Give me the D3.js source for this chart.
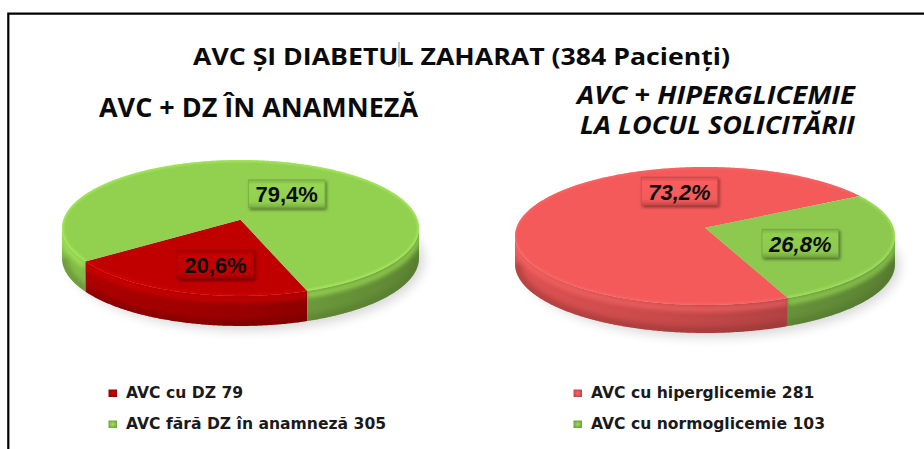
<!DOCTYPE html>
<html>
<head>
<meta charset="utf-8">
<script src="https://cdn.jsdelivr.net/npm/d3@7"></script>
<style>
  html, body { margin: 0; padding: 0; background: #fff; }
  svg { display: block; }
</style>
</head>
<body>
<script>
// ---- data ----
const chartTitle = "AVC ȘI DIABETUL ZAHARAT (384 Pacienți)";
const leftTitleLines = ["AVC + DZ ÎN ANAMNEZĂ"];
const rightTitleLines = ["AVC + HIPERGLICEMIE", "LA LOCUL SOLICITĂRII"];

const leftCategories = ["AVC cu DZ", "AVC fără DZ în anamneză"];
const leftValues = [79, 305];
const rightCategories = ["AVC cu hiperglicemie", "AVC cu normoglicemie"];
const rightValues = [281, 103];

// ---- layout / style ----
const W = 924, H = 449;
const DEG = Math.PI / 180;

const pies = [
  {
    cats: leftCategories, values: leftValues,
    cx: 240.5, cy: 219.8, rx: 177.2, ry: 67, k: 0.12, depth: 30,
    start: 160.5 * DEG,
    colors: ["#C00000", "#92D050"],
    italic: false,
    labelAngleShift: [-5.8, 17.4], labelRadius: [0.643, 0.477],
    legendX: 108.5
  },
  {
    cats: rightCategories, values: rightValues,
    cx: 705, cy: 227.7, rx: 188.6, ry: 68, k: 0.12, depth: 28,
    start: 157 * DEG,
    colors: ["#F45A5A", "#8DC94F"],
    italic: true,
    labelAngleShift: [56.8, 7], labelRadius: [0.578, 0.545],
    legendX: 573.5
  }
];

const svg = d3.select("body").append("svg")
  .attr("width", W).attr("height", H)
  .attr("viewBox", `0 0 ${W} ${H}`);
const defs = svg.append("defs");

// soft blur filters
function blurFilter(id, sd) {
  defs.append("filter").attr("id", id)
    .attr("x", "-30%").attr("y", "-30%").attr("width", "160%").attr("height", "160%")
    .append("feGaussianBlur").attr("stdDeviation", sd);
}
blurFilter("blur1", 1.2);
blurFilter("blur2", 2.2);
blurFilter("blur6", 6);

const boxShadow = defs.append("filter").attr("id", "boxShadow")
  .attr("x", "-30%").attr("y", "-40%").attr("width", "160%").attr("height", "180%");
boxShadow.append("feDropShadow")
  .attr("dx", 1.5).attr("dy", 2).attr("stdDeviation", 1.8)
  .attr("flood-color", "#000").attr("flood-opacity", 0.45);

// frame lines (left and top)
svg.append("path")
  .attr("d", "M8.3,449 V13.7 H924")
  .attr("fill", "none").attr("stroke", "#000").attr("stroke-width", 2.2);

// ---- perspective disc projection ----
function proj(p, th, r, z) {
  const c = Math.cos(th), s = Math.sin(th);
  const f = 1 / (1 + p.k * r * c);
  return [p.cx + p.rx * r * s * f, p.cy - p.ry * r * c * f + (z || 0)];
}
function arcPts(p, a0, a1, r, z) {
  const n = Math.max(2, Math.ceil(Math.abs(a1 - a0) / (0.5 * DEG)));
  const pts = [];
  for (let i = 0; i <= n; i++) pts.push(proj(p, a0 + (a1 - a0) * i / n, r, z));
  return pts;
}
const line = d3.line();

const pctFmt = v => d3.format(".1f")(v).replace(".", ",") + "%";

pies.forEach((p, pi) => {
  const total = d3.sum(p.values);
  const arcs = d3.pie().sort(null)
    .startAngle(p.start).endAngle(p.start + 2 * Math.PI)(p.values);

  const g = svg.append("g");

  // ground shadow
  g.append("ellipse")
    .attr("cx", p.cx + 6).attr("cy", p.cy + p.depth + 10)
    .attr("rx", p.rx * 1.0).attr("ry", p.ry * 1.05)
    .attr("fill", "#000").attr("opacity", 0.16)
    .attr("filter", "url(#blur6)");

  // visible outer wall interval (front side)
  const tL = Math.acos(-p.k), tR = 2 * Math.PI - tL;

  arcs.forEach((a, i) => {
    const base = d3.rgb(p.colors[i]);
    const gid = `side${pi}_${i}`;
    const grad = defs.append("linearGradient").attr("id", gid)
      .attr("gradientUnits", "userSpaceOnUse")
      .attr("x1", p.cx - p.rx).attr("x2", p.cx + p.rx).attr("y1", 0).attr("y2", 0);
    grad.append("stop").attr("offset", 0).attr("stop-color", base.darker(0.25));
    grad.append("stop").attr("offset", 0.55).attr("stop-color", base.darker(0.7));
    grad.append("stop").attr("offset", 1).attr("stop-color", base.darker(1.25));

    for (let n = -1; n <= 2; n++) {
      const lo = Math.max(a.startAngle, tL + n * 2 * Math.PI);
      const hi = Math.min(a.endAngle, tR + n * 2 * Math.PI);
      if (hi <= lo) continue;
      const topE = arcPts(p, lo, hi, 1, 0);
      const botE = arcPts(p, hi, lo, 1, p.depth);
      const d = line(topE.concat(botE)) + "Z";
      const cid = `clip${pi}_${i}_${n}`;
      defs.append("clipPath").attr("id", cid).append("path").attr("d", d);
      g.append("path").attr("d", d).attr("fill", `url(#${gid})`);
      const wg = g.append("g").attr("clip-path", `url(#${cid})`);
      // rounded-edge highlight under the rim
      wg.append("path").attr("d", line(arcPts(p, lo, hi, 1, 4)))
        .attr("fill", "none").attr("stroke", base.brighter(0.5))
        .attr("stroke-width", 6).attr("opacity", 0.55).attr("filter", "url(#blur2)");
      // darker lower edge
      wg.append("path").attr("d", line(arcPts(p, lo, hi, 1, p.depth)))
        .attr("fill", "none").attr("stroke", base.darker(1.6))
        .attr("stroke-width", 12).attr("opacity", 0.45).attr("filter", "url(#blur2)");
    }
  });

  // top faces
  arcs.forEach((a, i) => {
    const base = d3.rgb(p.colors[i]);
    const pts = [proj(p, 0, 0, 0)].concat(arcPts(p, a.startAngle, a.endAngle, 1, 0));
    const d = line(pts) + "Z";
    const cid = `topclip${pi}_${i}`;
    defs.append("clipPath").attr("id", cid).append("path").attr("d", d);
    g.append("path").attr("d", d).attr("fill", base);
    // soft bevel along the rim of the top face
    const tg = g.append("g").attr("clip-path", `url(#${cid})`);
    tg.append("path").attr("d", line(arcPts(p, a.startAngle, a.endAngle, 1, 0)))
      .attr("fill", "none").attr("stroke", base.brighter(0.6))
      .attr("stroke-width", 4).attr("opacity", 0.45).attr("filter", "url(#blur1)");
  });

  // percentage labels in boxes
  arcs.forEach((a, i) => {
    const base = d3.rgb(p.colors[i]);
    const mid = (a.startAngle + a.endAngle) / 2 + p.labelAngleShift[i] * DEG;
    const [lx, ly] = proj(p, mid, p.labelRadius[i], 0);
    const lg = g.append("g");
    const txt = pctFmt(a.data / total * 100);
    const t = lg.append("text")
      .attr("x", lx).attr("y", ly).attr("dy", "0.35em")
      .attr("text-anchor", "middle")
      .attr("font-family", "'Liberation Sans', Arial, sans-serif")
      .attr("font-weight", 700)
      .attr("font-style", p.italic ? "italic" : "normal")
      .attr("font-size", 22)
      .attr("fill", "#0d0d0d")
      .text(txt);
    const tw = t.node().getComputedTextLength();
    const bw = tw + 14, bh = 28;
    const bgid = `box${pi}_${i}`;
    const bg = defs.append("linearGradient").attr("id", bgid)
      .attr("x1", 0).attr("x2", 0).attr("y1", 0).attr("y2", 1);
    bg.append("stop").attr("offset", 0).attr("stop-color", base.darker(0.35));
    bg.append("stop").attr("offset", 0.18).attr("stop-color", base.brighter(0.08));
    bg.append("stop").attr("offset", 0.8).attr("stop-color", base);
    bg.append("stop").attr("offset", 1).attr("stop-color", base.darker(0.55));
    lg.insert("rect", "text")
      .attr("x", lx - bw / 2).attr("y", ly - bh / 2 - 1)
      .attr("width", bw).attr("height", bh)
      .attr("fill", `url(#${bgid})`)
      .attr("stroke", base.darker(0.8)).attr("stroke-opacity", 0.5).attr("stroke-width", 1)
      .attr("filter", "url(#boxShadow)");
  });

  // legend
  const legendRows = [393, 424];
  p.cats.forEach((c, i) => {
    const base = d3.rgb(p.colors[i]);
    const y = legendRows[i];
    const mgid = `mk${pi}_${i}`;
    const mg = defs.append("radialGradient").attr("id", mgid);
    mg.append("stop").attr("offset", 0).attr("stop-color", base.brighter(0.3));
    mg.append("stop").attr("offset", 1).attr("stop-color", base.darker(0.6));
    svg.append("rect")
      .attr("x", p.legendX).attr("y", y - 3.5)
      .attr("width", 8.5).attr("height", 7.5)
      .attr("fill", `url(#${mgid})`);
    svg.append("text")
      .attr("x", p.legendX + 17.5).attr("y", y + 4.5)
      .attr("font-family", "'DejaVu Sans', Verdana, sans-serif")
      .attr("font-weight", 700).attr("font-size", 15.6)
      .attr("fill", "#1a1a1a")
      .text(`${c} ${p.values[i]}`);
  });
});

// ---- titles ----
function fittedText(x, y, str, size, width, italic) {
  const t = svg.append("text")
    .attr("x", x).attr("y", y)
    .attr("font-family", "'Open Sans', 'Noto Sans', sans-serif")
    .attr("font-weight", 700)
    .attr("font-style", italic ? "italic" : "normal")
    .attr("font-size", size)
    .attr("fill", "#0a0a0a")
    .text(str);
  const natural = t.node().getComputedTextLength();
  t.attr("textLength", width).attr("lengthAdjust", "spacingAndGlyphs");
  return { node: t, natural };
}

const main = fittedText(193, 65, chartTitle, 24, 537, false);
// thin text caret inside the title
const caretAt = main.node.node().getSubStringLength(0, 13) / main.natural * 537 + 193;
svg.append("line")
  .attr("x1", caretAt).attr("x2", caretAt).attr("y1", 42).attr("y2", 67)
  .attr("stroke", "#8a8a8a").attr("stroke-width", 1);

fittedText(99, 117, leftTitleLines[0], 26, 319, false);
fittedText(577, 104, rightTitleLines[0], 24.5, 278, true);
fittedText(580, 134, rightTitleLines[1], 24.5, 275, true);
</script>
</body>
</html>
